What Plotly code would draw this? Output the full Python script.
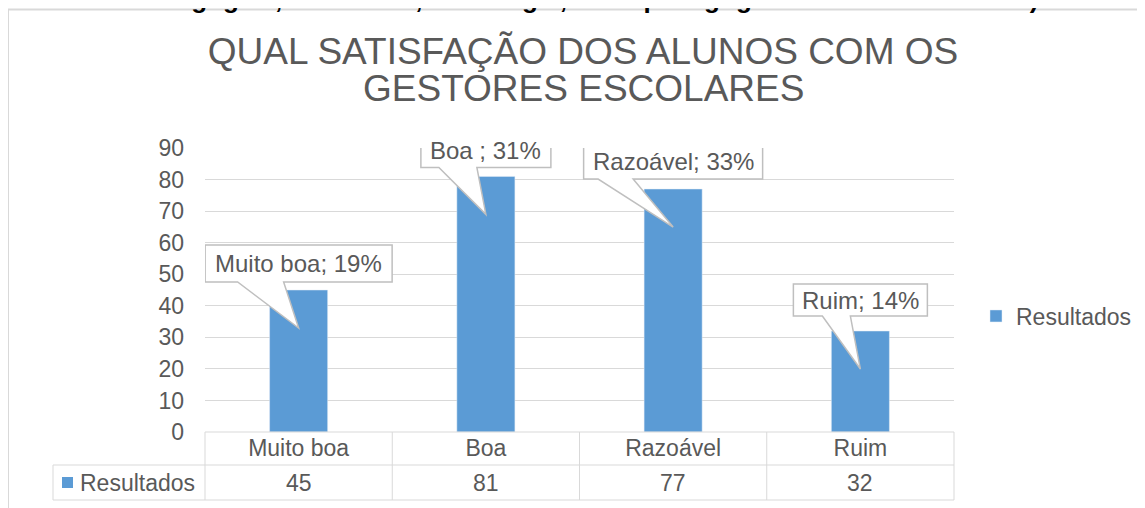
import plotly.graph_objects as go

# ---- data ----
categories = ["Muito boa", "Boa", "Razoável", "Ruim"]
values = [45, 81, 77, 32]
series_name = "Resultados"
callout_labels = ["Muito boa; 19%", "Boa ; 31%", "Razoável; 33%", "Ruim; 14%"]
y_ticks = [0, 10, 20, 30, 40, 50, 60, 70, 80, 90]
title_line1 = "QUAL SATISFAÇÃO DOS ALUNOS COM OS"
title_line2 = "GESTORES ESCOLARES"
top_caption = "Pedagógica, Secretaria, Psicologia, Psicopedagogia e Assistência Social)"

# ---- layout constants (page pixels) ----
OFF = 8                      # browser body margin
FW, FH = 1145 - OFF, 508 - OFF
L, R, T, B = 205, 954, 148, 432
PW, PH = R - L, B - T
BLUE = "#5b9bd5"
GRID = "#d9d9d9"
TXT = "#595959"
FONT = "Liberation Sans, Arial, sans-serif"
YMAX = 90

def px_x(X):
    return (X - L) / PW

def px_y(Y):
    return (B - Y) / PH

KX = 4 / PW      # data units per px (x)
KY = YMAX / PH   # data units per px (y)

# callout styles (px): box width, height, centre above bar top, tail base offsets
box_w = [187, 130, 179, 134]
box_h = [37, 34, 35, 32]
box_up = [26.5, 26, 27.5, 31]
tail_base = [(-61, -15), (-47, -9), (-75, -40), (-38, -10)]
tip_down = 38

fig = go.Figure()
idx = list(range(len(categories)))
fig.add_trace(go.Bar(
    x=idx, y=values, name=series_name, marker_color=BLUE, width=0.31,
    hoverinfo="skip", showlegend=True,
))

shapes = []
annotations = []

# callouts
for i, v in enumerate(values):
    cx = i
    cy = v + box_up[i] * KY
    hw = box_w[i] / 2 * KX
    hh = box_h[i] / 2 * KY
    xl, xr = cx - hw, cx + hw
    yt, yb = cy + hh, cy - hh
    bl = cx + tail_base[i][0] * KX
    br = cx + tail_base[i][1] * KX
    tx, ty = i, v - tip_down * KY
    path = (f"M{xl},{yt} L{xr},{yt} L{xr},{yb} L{br},{yb} L{tx},{ty} "
            f"L{bl},{yb} L{xl},{yb} Z")
    shapes.append(dict(type="path", path=path, xref="x", yref="y",
                       fillcolor="white", line=dict(color="#bfbfbf", width=1.5),
                       layer="above"))
    annotations.append(dict(x=cx, y=cy, xref="x", yref="y", text=callout_labels[i],
                            showarrow=False, font=dict(family=FONT, size=24, color=TXT),
                            xanchor="center", yanchor="middle"))

# data table grid
cw = PW / len(categories)
row1_top, row1_bot, row2_bot = 432, 465, 500
tab_left = 53
def hline(x0, x1, y):
    shapes.append(dict(type="line", xref="paper", yref="paper", x0=px_x(x0), x1=px_x(x1),
                       y0=px_y(y), y1=px_y(y), line=dict(color=GRID, width=1)))
def vline(x, y0, y1):
    shapes.append(dict(type="line", xref="paper", yref="paper", x0=px_x(x), x1=px_x(x),
                       y0=px_y(y0), y1=px_y(y1), line=dict(color=GRID, width=1)))
hline(L, R, row1_top)
hline(tab_left, R, row1_bot)
hline(tab_left, R, row2_bot)
vline(tab_left, row1_bot, row2_bot)
for k in range(len(categories) + 1):
    vline(L + k * cw, row1_top, row2_bot)

# values row
for i, v in enumerate(values):
    annotations.append(dict(x=i, y=px_y((row1_bot + row2_bot) / 2), xref="x", yref="paper",
                            text=str(v), showarrow=False,
                            font=dict(family=FONT, size=23, color=TXT),
                            xanchor="center", yanchor="middle"))
# row label with key
shapes.append(dict(type="rect", xref="paper", yref="paper", x0=px_x(62), x1=px_x(73),
                   y0=px_y(488), y1=px_y(477), fillcolor=BLUE, line=dict(width=0)))
annotations.append(dict(x=px_x(78), y=px_y((row1_bot + row2_bot) / 2), xref="paper",
                        yref="paper", text=series_name, showarrow=False,
                        font=dict(family=FONT, size=23, color=TXT),
                        xanchor="left", yanchor="middle"))

# outer chart border (top & left)
shapes.append(dict(type="line", xref="paper", yref="paper", x0=px_x(8), x1=px_x(1160),
                   y0=px_y(9.5), y1=px_y(9.5), line=dict(color=GRID, width=2)))
shapes.append(dict(type="line", xref="paper", yref="paper", x0=px_x(8), x1=px_x(8),
                   y0=px_y(9.5), y1=px_y(520), line=dict(color=GRID, width=2)))

# cut-off caption at top (partly above the page edge, as in the reference)
annotations.append(dict(x=px_x(583), y=px_y(-1), xref="paper", yref="paper",
                        text=f"<b>{top_caption}</b>", showarrow=False,
                        font=dict(family=FONT, size=26, color="black"),
                        xanchor="center", yanchor="middle"))

# second title line
annotations.append(dict(x=px_x(583), y=px_y(88), xref="paper", yref="paper",
                        text=title_line2, showarrow=False,
                        font=dict(family=FONT, size=37, color=TXT),
                        xanchor="center", yanchor="middle"))

fig.update_layout(
    width=FW, height=FH,
    margin=dict(l=L - OFF, r=FW - (R - OFF), t=T - OFF, b=FH - (B - OFF), pad=0),
    paper_bgcolor="white", plot_bgcolor="white",
    title=dict(text=title_line1, x=(583 - OFF) / FW, xanchor="center", xref="container",
               y=1 - (51 - OFF) / FH, yanchor="middle", yref="container",
               font=dict(family=FONT, size=37, color=TXT)),
    xaxis=dict(range=[-0.5, len(categories) - 0.5], tickvals=idx, ticktext=categories,
               showgrid=False, zeroline=False, showline=False, ticks="",
               tickfont=dict(family=FONT, size=23, color=TXT), ticklabelstandoff=0,
               fixedrange=True),
    yaxis=dict(range=[0, YMAX], tickvals=y_ticks, showgrid=True, gridcolor=GRID,
               gridwidth=1, zeroline=False, showline=False, ticks="",
               tickfont=dict(family=FONT, size=23, color=TXT), ticklabelstandoff=20,
               fixedrange=True),
    legend=dict(x=(976 - OFF) / FW, y=1 - (316 - OFF) / FH, xref="container",
                yref="container", xanchor="left", yanchor="middle",
                font=dict(family=FONT, size=23, color=TXT), bgcolor="rgba(0,0,0,0)"),
    showlegend=True,
    shapes=shapes,
    annotations=annotations,
)

fig.write_html("out.html")
